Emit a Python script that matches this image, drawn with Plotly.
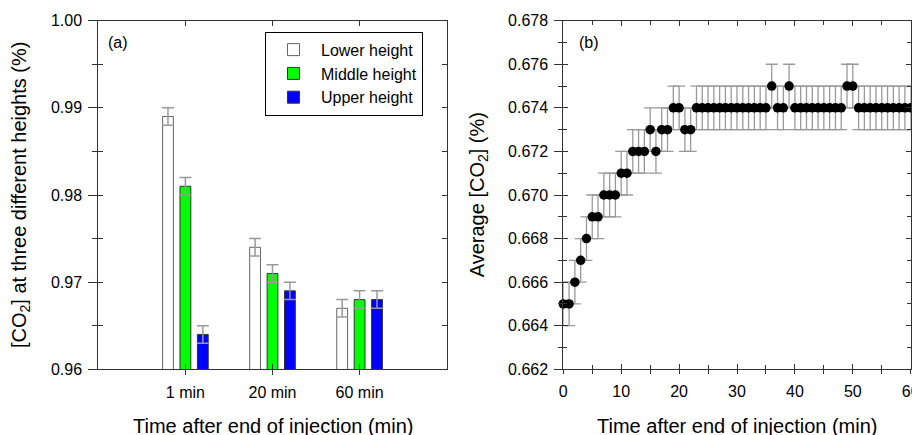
import plotly.graph_objects as go

# ---------------- data ----------------
categories = ["1 min", "20 min", "60 min"]
lower_height = [0.989, 0.974, 0.967]
middle_height = [0.981, 0.971, 0.968]
upper_height = [0.964, 0.969, 0.968]
lower_err = [0.001, 0.001, 0.001]
middle_err = [0.001, 0.001, 0.001]
upper_err = [0.001, 0.001, 0.001]

time_min = list(range(0, 61))
avg_co2 = [
    0.665, 0.665, 0.666, 0.667, 0.668, 0.669, 0.669, 0.670, 0.670, 0.670,
    0.671, 0.671, 0.672, 0.672, 0.672, 0.673, 0.672, 0.673, 0.673, 0.674,
    0.674, 0.673, 0.673, 0.674, 0.674, 0.674, 0.674, 0.674, 0.674, 0.674,
    0.674, 0.674, 0.674, 0.674, 0.674, 0.674, 0.675, 0.674, 0.674, 0.675,
    0.674, 0.674, 0.674, 0.674, 0.674, 0.674, 0.674, 0.674, 0.674, 0.675,
    0.675, 0.674, 0.674, 0.674, 0.674, 0.674, 0.674, 0.674, 0.674, 0.674,
    0.674,
]
avg_err = [
    0.001, 0.001, 0.001, 0.001, 0.001, 0.001, 0.001, 0.001, 0.001, 0.001,
    0.001, 0.001, 0.001, 0.001, 0.001, 0.001, 0.001, 0.001, 0.001, 0.001,
    0.001, 0.001, 0.001, 0.001, 0.001, 0.001, 0.001, 0.001, 0.001, 0.001,
    0.001, 0.001, 0.001, 0.001, 0.001, 0.001, 0.001, 0.001, 0.001, 0.001,
    0.001, 0.001, 0.001, 0.001, 0.001, 0.001, 0.001, 0.001, 0.001, 0.001,
    0.001, 0.001, 0.001, 0.001, 0.001, 0.001, 0.001, 0.001, 0.001, 0.001,
    0.001,
]

# ---------------- style ----------------
W, H = 920, 435
OFF = 8  # page body margin offset of the figure div
FONT = "Liberation Sans, Arial, sans-serif"
AX = "#333333"
ERR = "#999999"

cat_pos = list(range(len(categories)))

# plot-area pixel boxes (screen pixels)
A_L, A_R = 98.3, 446.7
B_L, B_R = 563.3, 910.7
P_T, P_B = 20.7, 369.3


def px(x):
    return (x - OFF) / W


def py(y):
    return 1 - (y - OFF) / H


fig = go.Figure()

bar_series = [
    ("Lower height", lower_height, lower_err, "#ffffff", "#666666"),
    ("Middle height", middle_height, middle_err, "#00ff00", "#333333"),
    ("Upper height", upper_height, upper_err, "#0000ff", "#333333"),
]
for name, vals, errs, fill, edge in bar_series:
    fig.add_trace(go.Bar(
        x=cat_pos, y=vals, name=name,
        marker=dict(color=fill, line=dict(color=edge, width=1)),
        error_y=dict(type="data", array=errs, color=ERR, thickness=1.5, width=6),
        xaxis="x", yaxis="y",
    ))

fig.add_trace(go.Scatter(
    x=time_min, y=avg_co2, mode="markers", showlegend=False,
    marker=dict(color="black", size=9.5),
    error_y=dict(type="data", array=avg_err, color=ERR, thickness=1.3, width=6),
    cliponaxis=False, xaxis="x2", yaxis="y2",
))

# empty traces to register the overlay (inside-tick) axes
fig.add_trace(go.Scatter(x=[None], y=[None], showlegend=False, hoverinfo="skip",
                         xaxis="x3", yaxis="y3"))
fig.add_trace(go.Scatter(x=[None], y=[None], showlegend=False, hoverinfo="skip",
                         xaxis="x4", yaxis="y4"))

tickfont = dict(family=FONT, size=16, color="black")

common_main = dict(showline=True, linecolor=AX, linewidth=1, mirror=True,
                   showgrid=False, zeroline=False, tickcolor=AX,
                   tickfont=tickfont, ticklabelstandoff=3, automargin=False)
common_over = dict(showline=False, showgrid=False, zeroline=False,
                   showticklabels=False, ticks="inside", tickcolor=AX,
                   mirror="ticks", automargin=False)

xa_dom = [px(A_L), px(A_R)]
xb_dom = [px(B_L), px(B_R)]
y_dom = [py(P_B), py(P_T)]

fig.update_layout(
    template="none",
    width=W, height=H,
    margin=dict(l=0, r=0, t=0, b=0, pad=0),
    paper_bgcolor="white", plot_bgcolor="white",
    font=dict(family=FONT, color="black"),
    barmode="group", bargap=0.4, bargroupgap=0.38,
    xaxis=dict(domain=xa_dom, anchor="y", range=[-1, 3], tickmode="array",
               tickvals=cat_pos, ticktext=categories, ticks="outside",
               ticklen=5, **common_main),
    yaxis=dict(domain=y_dom, anchor="x", range=[0.96, 1.0], dtick=0.01,
               tick0=0.96, tickformat=".2f", ticks="outside", ticklen=9,
               minor=dict(dtick=0.005, ticks="outside", ticklen=5, tickcolor=AX),
               **common_main),
    xaxis3=dict(overlaying="x", anchor="y3", side="top", range=[-1, 3],
                tickmode="array", tickvals=cat_pos, ticklen=5, **common_over),
    yaxis3=dict(overlaying="y", anchor="x3", side="left", range=[0.96, 1.0],
                dtick=0.01, tick0=0.96, ticklen=5,
                minor=dict(dtick=0.005, ticks="inside", ticklen=5, tickcolor=AX),
                **common_over),
    xaxis2=dict(domain=xb_dom, anchor="y2", range=[0, 60], dtick=10, tick0=0,
                ticks="outside", ticklen=4,
                minor=dict(dtick=5, ticks="outside", ticklen=4, tickcolor=AX),
                **common_main),
    yaxis2=dict(domain=y_dom, anchor="x2", range=[0.662, 0.678], dtick=0.002,
                tick0=0.662, tickformat=".3f", ticks="outside", ticklen=8,
                minor=dict(dtick=0.001, ticks="outside", ticklen=4, tickcolor=AX),
                **common_main),
    xaxis4=dict(overlaying="x2", anchor="y4", side="top", range=[0, 60],
                dtick=10, tick0=0, ticklen=5,
                minor=dict(dtick=5, ticks="inside", ticklen=4, tickcolor=AX),
                **common_over),
    yaxis4=dict(overlaying="y2", anchor="x4", side="left", range=[0.662, 0.678],
                dtick=0.002, tick0=0.662, ticklen=5,
                minor=dict(dtick=0.001, ticks="inside", ticklen=4, tickcolor=AX),
                **common_over),
    legend=dict(x=px(265), y=py(31.7), xanchor="left", yanchor="top",
                bgcolor="white", bordercolor="black", borderwidth=1,
                font=dict(family=FONT, size=16, color="black"),
                itemwidth=45, tracegroupgap=0),
)

title_font = dict(family=FONT, size=20, color="black")
ann = [
    dict(text="[CO<sub>2</sub>] at three different heights (%)", x=px(20),
         y=py((P_T + P_B) / 2), textangle=-90, xanchor="center", yanchor="middle"),
    dict(text="Average [CO<sub>2</sub>] (%)", x=px(478.3),
         y=py((P_T + P_B) / 2), textangle=-90, xanchor="center", yanchor="middle"),
    dict(text="Time after end of injection (min)", x=px((A_L + A_R) / 2),
         y=py(413), xanchor="center", yanchor="top"),
    dict(text="Time after end of injection (min)", x=px((B_L + B_R) / 2),
         y=py(413), xanchor="center", yanchor="top"),
]
annotations = []
for a in ann:
    a.update(xref="paper", yref="paper", showarrow=False, font=title_font)
    annotations.append(a)
for lbl, xl in (("(a)", 106), ("(b)", 577)):
    annotations.append(dict(text=lbl, x=px(xl), y=py(42.7), xref="paper",
                            yref="paper", xanchor="left", yanchor="middle",
                            showarrow=False,
                            font=dict(family=FONT, size=16, color="black")))
fig.update_layout(annotations=annotations)

fig.write_html("out.html")
